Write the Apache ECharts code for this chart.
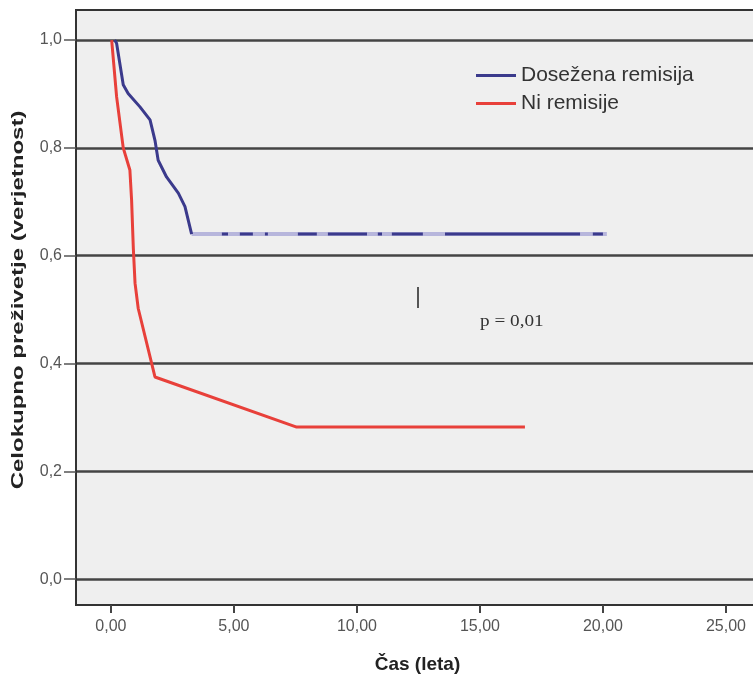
<!DOCTYPE html>
<html>
<head>
<meta charset="utf-8">
<script src="https://cdn.jsdelivr.net/npm/echarts@6/dist/echarts.min.js"></script>
<style>
  html, body { margin: 0; padding: 0; background: #fff; }
  #chart { width: 753px; height: 681px; }
</style>
</head>
<body>
<div id="chart"></div>
<script>
// Kaplan-Meier podatki, odčitani s slike
const xTicks = [0, 5, 10, 15, 20, 25];
const yTicks = [0, 0.2, 0.4, 0.6, 0.8, 1.0];

const remisijaCurve = [
    [0.15, 1.0], [0.23, 0.994], [0.50, 0.917], [0.70, 0.901], [1.18, 0.876],
    [1.59, 0.852], [1.79, 0.814], [1.92, 0.777], [2.26, 0.746], [2.74, 0.716],
    [3.01, 0.691], [3.28, 0.640]
];
const remisijaPlateau = [[3.28, 0.640], [20.16, 0.640]];
// temnejši odseki na platoju (cenzurirani primeri)
const remisijaCensored = [
    [4.51, 0.64], [4.76, 0.64], [4.76, '-'],
    [5.24, 0.64], [5.77, 0.64], [5.77, '-'],
    [6.26, 0.64], [6.38, 0.64], [6.38, '-'],
    [7.60, 0.64], [8.37, 0.64], [8.37, '-'],
    [8.82, 0.64], [10.41, 0.64], [10.41, '-'],
    [10.85, 0.64], [11.02, 0.64], [11.02, '-'],
    [11.42, 0.64], [12.68, 0.64], [12.68, '-'],
    [13.58, 0.64], [19.07, 0.64], [19.07, '-'],
    [19.59, 0.64], [20.00, 0.64]
];

const niRemisijeCurve = [
    [0.03, 1.0], [0.23, 0.895], [0.50, 0.800], [0.77, 0.759], [0.84, 0.703],
    [0.91, 0.614], [0.98, 0.549], [1.11, 0.502], [1.79, 0.375], [7.55, 0.282],
    [16.83, 0.282]
];

const fmt = (v, d) => v.toFixed(d).replace('.', ',');

const chart = echarts.init(document.getElementById('chart'));

const option = {
    backgroundColor: '#ffffff',
    animation: false,
    grid: {
        left: 76,
        top: 10,
        width: 691,
        bottom: 76,
        outerBoundsMode: 'none',
        containLabel: false,
        show: true,
        backgroundColor: '#efefef',
        borderColor: '#333333',
        borderWidth: 2
    },
    legend: {
        data: ['Dosežena remisija', 'Ni remisije'],
        orient: 'vertical',
        left: 471,
        top: 60,
        itemWidth: 40,
        itemHeight: 3,
        itemGap: 7,
        icon: 'rect',
        textStyle: {
            fontFamily: 'Liberation Sans, Arial, sans-serif',
            fontSize: 21,
            color: '#333333'
        }
    },
    xAxis: {
        type: 'value',
        min: -1.42,
        max: 26.67,
        name: 'Čas (leta)',
        nameLocation: 'middle',
        nameGap: 50,
        nameTextStyle: {
            fontFamily: 'Liberation Sans, Arial, sans-serif',
            fontSize: 19,
            fontWeight: 'bold',
            color: '#222222',
            padding: [0, 8, 0, 0]
        },
        axisLine: { show: true, onZero: false, lineStyle: { color: '#333333', width: 2 } },
        axisTick: {
            show: true,
            length: 8,
            customValues: xTicks,
            lineStyle: { color: '#444444', width: 2 }
        },
        axisLabel: {
            customValues: xTicks,
            margin: 14,
            fontFamily: 'Liberation Sans, Arial, sans-serif',
            fontSize: 16,
            color: '#555555',
            formatter: v => fmt(v, 2)
        },
        splitLine: { show: false }
    },
    yAxis: {
        type: 'value',
        min: -0.048,
        max: 1.0557,
        axisLine: { show: true, onZero: false, lineStyle: { color: '#333333', width: 2 } },
        axisTick: {
            show: true,
            length: 12,
            customValues: yTicks,
            lineStyle: { color: '#555555', width: 1.5 }
        },
        axisLabel: {
            customValues: yTicks,
            margin: 14,
            fontFamily: 'Liberation Sans, Arial, sans-serif',
            fontSize: 16,
            color: '#555555',
            formatter: v => fmt(v, 1)
        },
        splitLine: {
            show: true,
            lineStyle: { color: '#444444', width: 2.5 }
        }
    },
    series: [
        {
            name: 'Dosežena remisija',
            type: 'line',
            data: remisijaCurve,
            showSymbol: false,
            color: '#3b3a8c',
            lineStyle: { color: '#3b3a8c', width: 3 },
            z: 4
        },
        {
            name: 'remisija plato',
            type: 'line',
            data: remisijaPlateau,
            showSymbol: false,
            lineStyle: { color: '#b7b6dc', width: 4 },
            z: 3
        },
        {
            name: 'remisija cenzura',
            type: 'line',
            data: remisijaCensored,
            showSymbol: false,
            connectNulls: false,
            lineStyle: { color: '#3b3a8c', width: 3 },
            z: 4
        },
        {
            name: 'Ni remisije',
            type: 'line',
            data: niRemisijeCurve,
            showSymbol: false,
            color: '#e8403a',
            lineStyle: { color: '#e8403a', width: 3 },
            z: 4
        }
    ],
    graphic: [
        {
            // naslov osi y
            type: 'text',
            x: 19,
            y: 300,
            rotation: Math.PI / 2,
            scaleX: 1.5,
            style: {
                text: 'Celokupno preživetje (verjetnost)',
                font: 'bold 16px "Liberation Sans", Arial, sans-serif',
                fill: '#222222',
                align: 'center',
                verticalAlign: 'middle'
            }
        },
        {
            type: 'rect',
            shape: { x: 417, y: 287, width: 2, height: 21 },
            style: { fill: '#555555' }
        },
        {
            type: 'text',
            x: 480,
            y: 322,
            scaleX: 1.2,
            style: {
                text: 'p = 0,01',
                font: '16px "Liberation Serif", "Times New Roman", serif',
                fill: '#333333',
                verticalAlign: 'middle'
            }
        }
    ]
};

chart.setOption(option);
</script>
</body>
</html>
